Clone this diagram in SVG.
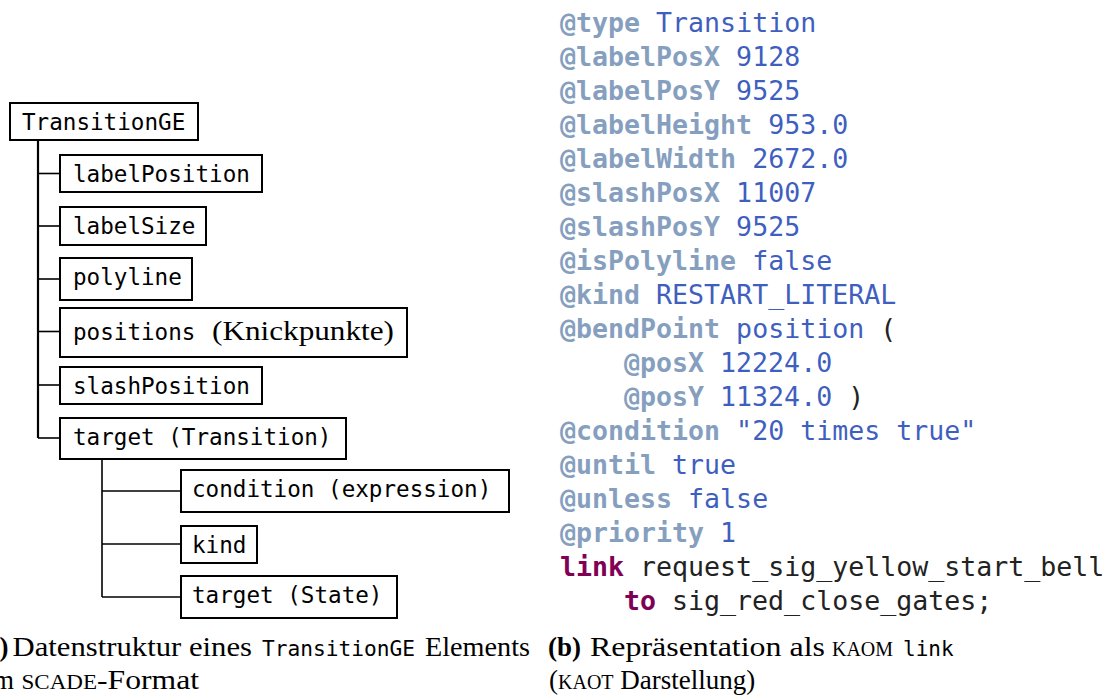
<svg xmlns="http://www.w3.org/2000/svg" width="1110" height="696" viewBox="0 0 1110 696">
<style>
.box{fill:#fff;stroke:#000;stroke-width:2}
.mono{font-family:"DejaVu Sans Mono","Liberation Mono",monospace;font-size:22.6px;fill:#000}
.serif{font-family:"Liberation Serif","DejaVu Serif",serif;fill:#000}
.conn line{stroke:#000;stroke-width:1.6}
.code{font-family:"DejaVu Sans Mono","Liberation Mono",monospace;font-size:26.6px;fill:#222}
.a{fill:#869fbf;font-weight:bold}
.v{fill:#3f5fbf}
.kw{fill:#7f0055;font-weight:bold}
.p{fill:#222}
.cap{font-family:"Liberation Serif","DejaVu Serif",serif;font-size:27px;fill:#000}
.capmono{font-family:"DejaVu Sans Mono","Liberation Mono",monospace;font-size:21px;fill:#000}
.sc{font-size:20px}
</style>
<rect width="1110" height="696" fill="#fff"/>
<g id="connectors" class="conn">
<line x1="38" y1="140" x2="38" y2="438" style="stroke-width:2.2"/>
<line x1="38" y1="173.5" x2="60" y2="173.5"/>
<line x1="38" y1="226" x2="60" y2="226"/>
<line x1="38" y1="279" x2="60" y2="279"/>
<line x1="38" y1="331.5" x2="60" y2="331.5"/>
<line x1="38" y1="385" x2="60" y2="385"/>
<line x1="38" y1="438" x2="60" y2="438"/>
<line x1="102" y1="459" x2="102" y2="597"/>
<line x1="102" y1="491" x2="181" y2="491"/>
<line x1="102" y1="544" x2="181" y2="544"/>
<line x1="102" y1="597" x2="181" y2="597"/>
</g>
<g id="n-transitionge"><rect class="box" x="10" y="103" width="188" height="37"/><text class="mono" x="22" y="129.7">TransitionGE</text></g>
<g id="n-labelposition"><rect class="box" x="60" y="155" width="202" height="37"/><text class="mono" x="73" y="181.7">labelPosition</text></g>
<g id="n-labelsize"><rect class="box" x="60" y="207" width="146" height="38"/><text class="mono" x="73" y="233.7">labelSize</text></g>
<g id="n-polyline"><rect class="box" x="60" y="258" width="132" height="42"/><text class="mono" x="73" y="284.7">polyline</text></g>
<g id="n-positions"><rect class="box" x="60" y="308" width="347" height="49"/><text class="mono" x="73" y="340">positions</text><text class="serif" x="212" y="340" style="font-size:28px" textLength="182" lengthAdjust="spacingAndGlyphs">(Knickpunkte)</text></g>
<g id="n-slashposition"><rect class="box" x="60" y="367" width="202" height="37"/><text class="mono" x="73" y="393.7">slashPosition</text></g>
<g id="n-target-transition"><rect class="box" x="60" y="418" width="286" height="41"/><text class="mono" x="73" y="444.7">target (Transition)</text></g>
<g id="n-condition"><rect class="box" x="181" y="470" width="328" height="42"/><text class="mono" x="192" y="497">condition (expression)</text></g>
<g id="n-kind"><rect class="box" x="181" y="526" width="76" height="37"/><text class="mono" x="192" y="552.7">kind</text></g>
<g id="n-target-state"><rect class="box" x="181" y="576" width="216" height="42"/><text class="mono" x="192" y="603">target (State)</text></g>
<g id="code">
<text class="code" x="560" y="32"><tspan class="a">@type</tspan><tspan class="v"> Transition</tspan></text>
<text class="code" x="560" y="66"><tspan class="a">@labelPosX</tspan><tspan class="v"> 9128</tspan></text>
<text class="code" x="560" y="100"><tspan class="a">@labelPosY</tspan><tspan class="v"> 9525</tspan></text>
<text class="code" x="560" y="134"><tspan class="a">@labelHeight</tspan><tspan class="v"> 953.0</tspan></text>
<text class="code" x="560" y="168"><tspan class="a">@labelWidth</tspan><tspan class="v"> 2672.0</tspan></text>
<text class="code" x="560" y="202"><tspan class="a">@slashPosX</tspan><tspan class="v"> 11007</tspan></text>
<text class="code" x="560" y="236"><tspan class="a">@slashPosY</tspan><tspan class="v"> 9525</tspan></text>
<text class="code" x="560" y="270"><tspan class="a">@isPolyline</tspan><tspan class="v"> false</tspan></text>
<text class="code" x="560" y="304"><tspan class="a">@kind</tspan><tspan class="v"> RESTART_LITERAL</tspan></text>
<text class="code" x="560" y="338"><tspan class="a">@bendPoint</tspan><tspan class="v"> position</tspan><tspan class="p"> (</tspan></text>
<text class="code" x="624" y="372"><tspan class="a">@posX</tspan><tspan class="v"> 12224.0</tspan></text>
<text class="code" x="624" y="406"><tspan class="a">@posY</tspan><tspan class="v"> 11324.0</tspan><tspan class="p"> )</tspan></text>
<text class="code" x="560" y="440"><tspan class="a">@condition</tspan><tspan class="v"> "20 times true"</tspan></text>
<text class="code" x="560" y="474"><tspan class="a">@until</tspan><tspan class="v"> true</tspan></text>
<text class="code" x="560" y="508"><tspan class="a">@unless</tspan><tspan class="v"> false</tspan></text>
<text class="code" x="560" y="542"><tspan class="a">@priority</tspan><tspan class="v"> 1</tspan></text>
<text class="code" x="560" y="576"><tspan class="kw">link</tspan><tspan class="p"> request_sig_yellow_start_bell</tspan></text>
<text class="code" x="624" y="610"><tspan class="kw">to</tspan><tspan class="p"> sig_red_close_gates;</tspan></text>
</g>
<g id="caption-a">
<text class="cap" x="-23" y="656" font-weight="bold">(a)</text>
<text class="cap" x="12.5" y="656" textLength="239.5" lengthAdjust="spacingAndGlyphs">Datenstruktur eines</text>
<text class="capmono" x="262" y="656" textLength="153" lengthAdjust="spacingAndGlyphs">TransitionGE</text>
<text class="cap" x="425" y="656" textLength="105" lengthAdjust="spacingAndGlyphs">Elements</text>
<text class="cap" x="-14.5" y="689">im</text>
<text class="cap sc" x="21.5" y="689" textLength="75.5" lengthAdjust="spacingAndGlyphs">SCADE</text>
<text class="cap" x="97" y="689" textLength="102" lengthAdjust="spacingAndGlyphs">-Format</text>
</g>
<g id="caption-b">
<text class="cap" x="548" y="656" font-weight="bold">(b)</text>
<text class="cap" x="590" y="656" textLength="235" lengthAdjust="spacingAndGlyphs">Repräsentation als</text>
<text class="cap sc" x="832" y="656" textLength="61" lengthAdjust="spacingAndGlyphs">KAOM</text>
<text class="capmono" x="903" y="656">link</text>
<text class="cap" x="549" y="689">(<tspan class="sc">KAOT</tspan> Darstellung)</text>
</g>
</svg>
